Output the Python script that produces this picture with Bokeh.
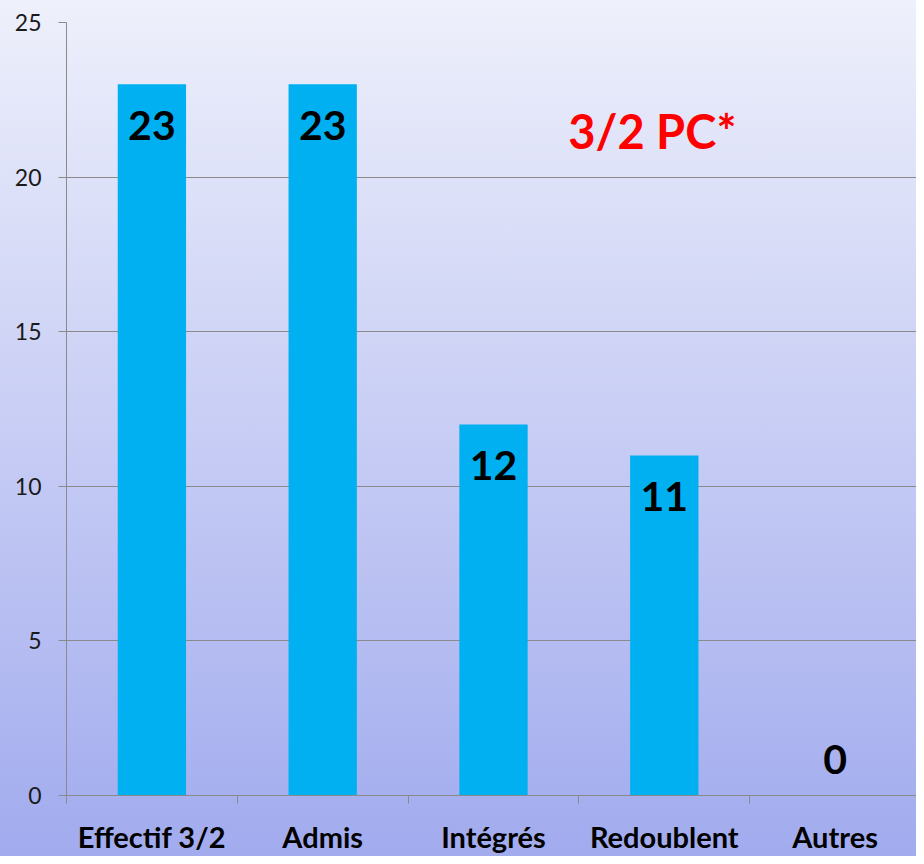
from bokeh.plotting import figure
from bokeh.models import ColumnDataSource, FixedTicker, Range1d, Label
from bokeh.core.properties import value
from bokeh.embed import file_html
from bokeh.resources import INLINE

categories = ["Effectif 3/2", "Admis", "Intégrés", "Redoublent", "Autres"]
values = [23, 23, 12, 11, 0]
y_ticks = [0, 5, 10, 15, 20, 25]
title_text = "3/2 PC*"

xs = [i + 0.5 for i in range(len(categories))]
offsets = [41 if v > 0 else -36 for v in values]
src = ColumnDataSource(dict(x=xs, top=values, label=[str(v) for v in values], off=offsets))

p = figure(width=916, height=856, output_backend="svg", toolbar_location=None,
           x_range=Range1d(0, 850 / 170.8), y_range=Range1d(0, 25),
           min_border_left=66, min_border_right=0, min_border_top=22, min_border_bottom=56)
p.background_fill_alpha = 0
p.border_fill_alpha = 0
p.outline_line_color = None
p.styles = {"background": "linear-gradient(to bottom, #EEF0FB 0%, #A1ABEE 100%)"}

p.vbar(x="x", top="top", width=0.4, bottom=0, source=src, color="#00B0F0", line_color=None)
p.text(x="x", y="top", text="label", y_offset="off", source=src, text_align="center",
       text_baseline="middle", text_font=value("Lato"), text_font_style="bold",
       text_font_size="41px", text_color="black")

p.add_layout(Label(x=3.43, y=21.5, text=title_text, text_align="center", text_baseline="middle",
                   text_font="Lato", text_font_style="bold", text_font_size="47px",
                   text_color="#FF0000"))

grid_color = "#8A8A8A"
p.xgrid.grid_line_color = None
p.ygrid.grid_line_color = grid_color
p.ygrid.ticker = FixedTicker(ticks=y_ticks)

ya = p.yaxis[0]
ya.ticker = FixedTicker(ticks=y_ticks)
ya.axis_line_color = grid_color
ya.major_tick_line_color = grid_color
ya.major_tick_out = 8
ya.major_tick_in = 0
ya.minor_tick_line_color = None
ya.major_label_standoff = 17
ya.major_label_text_font = "Lato"
ya.major_label_text_font_size = "23px"
ya.major_label_text_color = "#1a1a1a"

xa = p.xaxis[0]
xa.ticker = FixedTicker(ticks=xs, minor_ticks=list(range(len(categories) + 1)))
xa.major_label_overrides = {x: c for x, c in zip(xs, categories)}
xa.axis_line_color = grid_color
xa.major_tick_line_color = None
xa.minor_tick_line_color = grid_color
xa.minor_tick_out = 8
xa.minor_tick_in = 0
xa.major_label_standoff = 15
xa.major_label_text_font = "Lato"
xa.major_label_text_font_style = "bold"
xa.major_label_text_font_size = "29px"
xa.major_label_text_color = "black"

open("out.html", "w").write(file_html(p, INLINE))
